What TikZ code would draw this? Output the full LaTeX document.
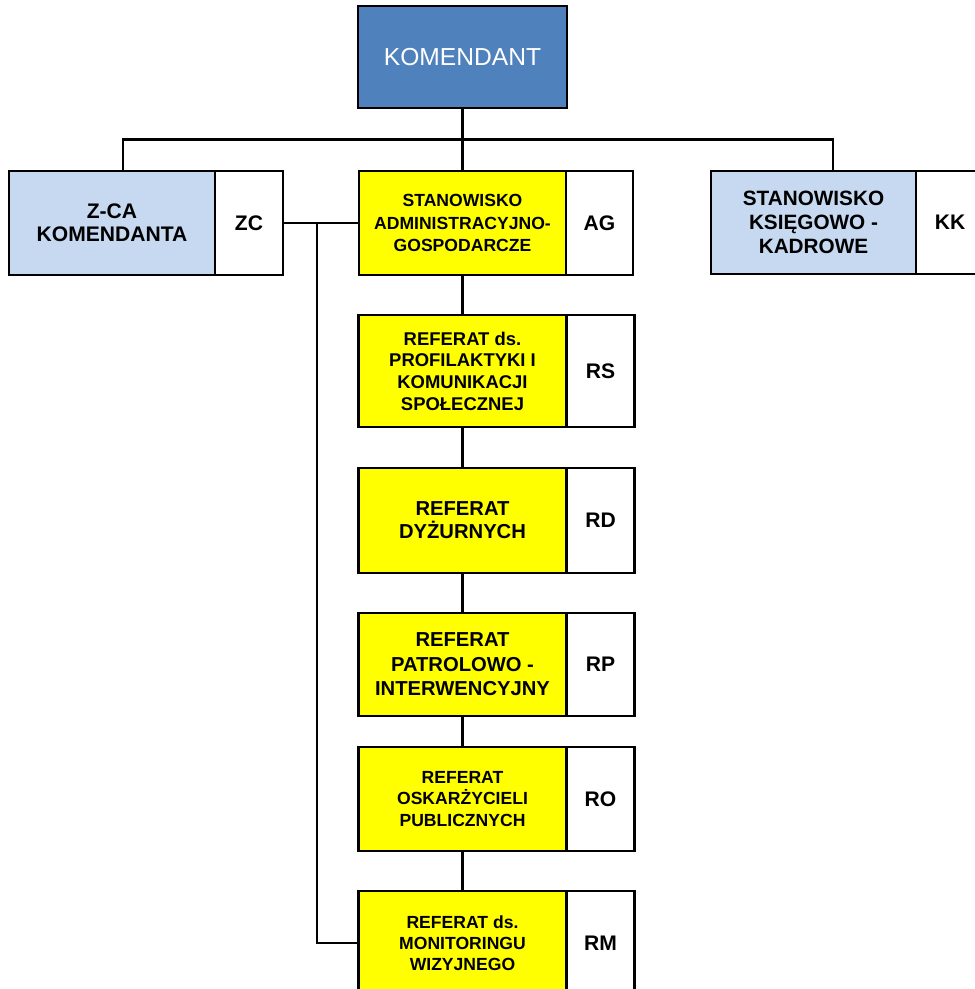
\documentclass[tikz,border=0pt]{standalone}
\usepackage{fontspec}
\setmainfont{Liberation Sans}
\usetikzlibrary{positioning, calc}
\definecolor{chiefblue}{RGB}{79, 129, 189}
\definecolor{deputyblue}{RGB}{198, 217, 241}
\definecolor{deptyellow}{RGB}{255, 255, 0}

\begin{document}
\begin{tikzpicture}[
    chief/.style={rectangle, draw=black, line width=1.2pt, fill=chiefblue, text=white, minimum width=4.18cm, minimum height=2.04cm, font=\fontsize{14}{16}\selectfont, outer sep=0pt},
    unit/.style={rectangle, draw=black, line width=1.2pt, fill=deputyblue, minimum width=4.12cm, minimum height=2.08cm, align=center, outer sep=0pt},
    dept/.style={rectangle, draw=black, line width=1.2pt, fill=deptyellow, minimum width=4.14cm, minimum height=2.08cm, align=center, outer sep=0pt},
    codebox/.style={rectangle, draw=black, line width=1.2pt, fill=white, minimum width=1.36cm, minimum height=2.08cm, font=\fontsize{12}{14}\selectfont\bfseries, outer sep=0pt},
    link/.style={line width=1.2pt}
]
\useasboundingbox (0,0) rectangle (19.48,-19.78);

% Top
\node[chief] (kom) at (9.25, -1.14) {KOMENDANT};

% ============ SECOND ROW ============
\node[unit, font=\fontsize{12}{13}\selectfont\bfseries] (zca) at (2.24, -4.46) {Z-CA\\KOMENDANTA};
\node[codebox, right=0pt of zca] (zc) {ZC};

\node[dept, font=\fontsize{10}{13}\selectfont\bfseries] (ag) at (9.25, -4.46) {STANOWISKO\\ADMINISTRACYJNO-\\GOSPODARCZE};
\node[codebox, minimum width=1.34cm, right=0pt of ag] (agc) {AG};

\node[unit, minimum width=4.10cm, minimum height=2.06cm, font=\fontsize{11.8}{13.6}\selectfont\bfseries] (kk) at (16.27, -4.45) {STANOWISKO\\KSIĘGOWO -\\KADROWE};
\node[codebox, minimum height=2.06cm, right=0pt of kk] (kkc) {KK};

% ============ DEPARTMENTS ============
\node[dept, minimum width=4.16cm, minimum height=2.24cm, font=\fontsize{10.5}{12.3}\selectfont\bfseries] (rs) at (9.25, -7.42) {REFERAT ds.\\PROFILAKTYKI I\\KOMUNIKACJI\\SPOŁECZNEJ};
\node[codebox, minimum height=2.24cm, right=0pt of rs] (rsc) {RS};

\node[dept, minimum width=4.16cm, minimum height=2.10cm, font=\fontsize{11.5}{13}\selectfont\bfseries] (rd) at (9.25, -10.41) {REFERAT\\DYŻURNYCH};
\node[codebox, minimum height=2.10cm, right=0pt of rd] (rdc) {RD};

\node[dept, minimum width=4.16cm, minimum height=2.06cm, font=\fontsize{11.5}{14}\selectfont\bfseries] (rp) at (9.25, -13.29) {REFERAT\\PATROLOWO -\\INTERWENCYJNY};
\node[codebox, minimum height=2.06cm, right=0pt of rp] (rpc) {RP};

\node[dept, minimum width=4.16cm, font=\fontsize{10}{12.3}\selectfont\bfseries] (ro) at (9.25, -15.98) {REFERAT\\OSKARŻYCIELI\\PUBLICZNYCH};
\node[codebox, right=0pt of ro] (roc) {RO};

\node[dept, minimum width=4.16cm, font=\fontsize{10}{12}\selectfont\bfseries] (rm) at (9.25, -18.86) {REFERAT ds.\\MONITORINGU\\WIZYJNEGO};
\node[codebox, right=0pt of rm] (rmc) {RM};

% Connectors
\draw[link] (kom.south) -- (ag.north);
\draw[link] ([xshift=0.22cm]zca.north) |- ($(kom.south)!0.5!(ag.north)$) -| ([xshift=0.39cm]kk.north);

\draw[link] (zc.east) -- (ag.west);
\coordinate (tap) at ($(zc.east)!0.45!(ag.west)$);
\draw[link] (tap) |- (rm.west);

\draw[link] (ag.south) -- (rs.north);
\draw[link] (rs.south) -- (rd.north);
\draw[link] (rd.south) -- (rp.north);
\draw[link] (rp.south) -- (ro.north);
\draw[link] (ro.south) -- (rm.north);

\end{tikzpicture}
\end{document}
